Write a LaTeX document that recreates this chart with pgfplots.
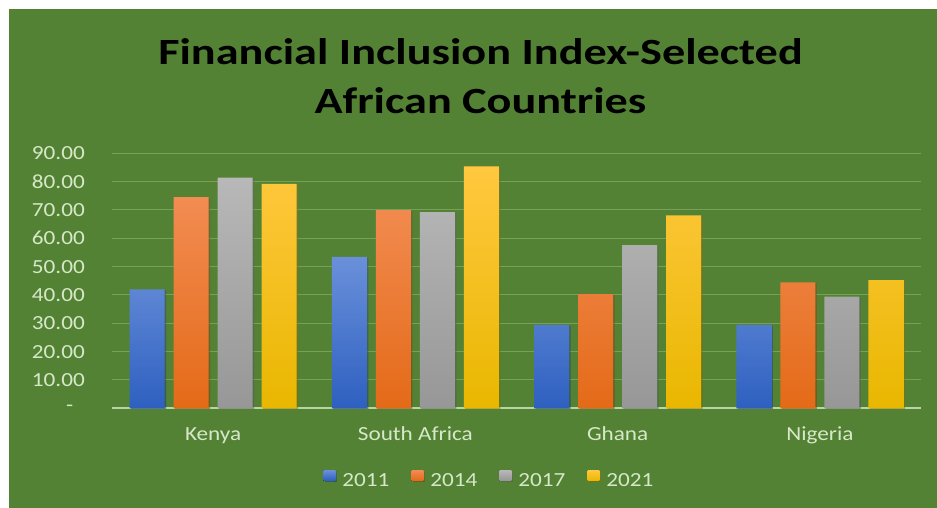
\documentclass[border=0pt]{standalone}
\usepackage{pgfplots}
\pgfplotsset{compat=1.18}
\usepackage{pgfplotstable}
\usepackage{fontspec}
\setmainfont{Carlito}[FakeStretch=1.16]
\newfontfamily\titlefont{Carlito}[FakeStretch=1.25]
\usetikzlibrary{shadows}
\definecolor{bg}{HTML}{548235}
\definecolor{gridc}{HTML}{76A157}
\definecolor{basec}{HTML}{B9D5A5}
\definecolor{lbl}{HTML}{D6E8C8}
\definecolor{blueT}{HTML}{6A90DA}
\definecolor{blueB}{HTML}{2E60C0}
\definecolor{orT}{HTML}{F28C52}
\definecolor{orB}{HTML}{E46A18}
\definecolor{grT}{HTML}{B8B8B8}
\definecolor{grB}{HTML}{979797}
\definecolor{yeT}{HTML}{FFC83F}
\definecolor{yeM}{HTML}{FFC000}
\definecolor{yeB}{HTML}{E9B700}
\tikzset{myshadow/.style={drop shadow={shadow xshift=1.5bp, shadow yshift=-1bp, opacity=0.3, fill=black}}}
\pgfplotstableread{
x y2011 y2014 y2017 y2021
0 42.0 74.5 81.4 79.2
1 53.4 69.9 69.2 85.4
2 29.4 40.3 57.6 68.1
3 29.4 44.4 39.4 45.2
}\datatable
\begin{document}
\begin{tikzpicture}[x=1bp,y=1bp]
\fill[white] (0,0) rectangle (937,508);
\fill[bg] (9,0) rectangle (937,499);
\node[anchor=base, text=black, font={\titlefont\fontsize{37bp}{44bp}\selectfont\bfseries}] at (480.5,443) {Financial Inclusion Index-Selected};
\node[anchor=base, text=black, font={\titlefont\fontsize{37bp}{44bp}\selectfont\bfseries}] at (480.5,394.7) {African Countries};
\begin{axis}[
  at={(112bp,99.7bp)}, anchor=south west,
  scale only axis, width=809bp, height=255bp,
  xmin=-0.5, xmax=3.5, ymin=0, ymax=90,
  ybar=9bp, bar width=35bp,
  axis line style={draw=none},
  major tick length=0pt,
  ytick={10,20,...,90},
  ymajorgrids, grid style={gridc, line width=1bp},
  extra y ticks={0},
  extra y tick labels={-\hspace*{11.5bp}},
  extra y tick style={grid style={basec, line width=2bp}},
  xtick={0,1,2,3},
  xticklabels={Kenya, South Africa, Ghana, Nigeria},
  /pgf/number format/assume math mode=true,
  yticklabel style={/pgf/number format/.cd, fixed, fixed zerofill, precision=2, /tikz/.cd, anchor=east, inner sep=0pt, xshift=-27bp},
  xticklabel style={anchor=base, inner sep=0pt, yshift=-32bp},
  ticklabel style={font=\fontsize{20bp}{24bp}\selectfont, text=lbl},
  legend columns=4,
  legend style={at={(axis description cs:0.4665,-0.281)}, anchor=center, draw=none, fill=none, text=lbl,
    font=\fontsize{20bp}{24bp}\selectfont,
    /tikz/every even column/.append style={column sep=20bp},
    /tikz/every odd column/.append style={column sep=5bp}},
  legend image code/.code={\tikzset{myshadow/.style={}}\fill[#1] (0bp,0bp) rectangle (12bp,10.5bp);},
  every axis plot/.append style={draw=none, myshadow},
]
\addplot[top color=blueT, bottom color=blueB] table[x=x, y=y2011] {\datatable};
\addplot[top color=orT, bottom color=orB] table[x=x, y=y2014] {\datatable};
\addplot[top color=grT, bottom color=grB] table[x=x, y=y2017] {\datatable};
\addplot[top color=yeT, middle color=yeM, bottom color=yeB] table[x=x, y=y2021] {\datatable};
\legend{2011, 2014, 2017, 2021}
\end{axis}
\pgfresetboundingbox
\path[use as bounding box] (0,0) rectangle (937,508);
\end{tikzpicture}
\end{document}
